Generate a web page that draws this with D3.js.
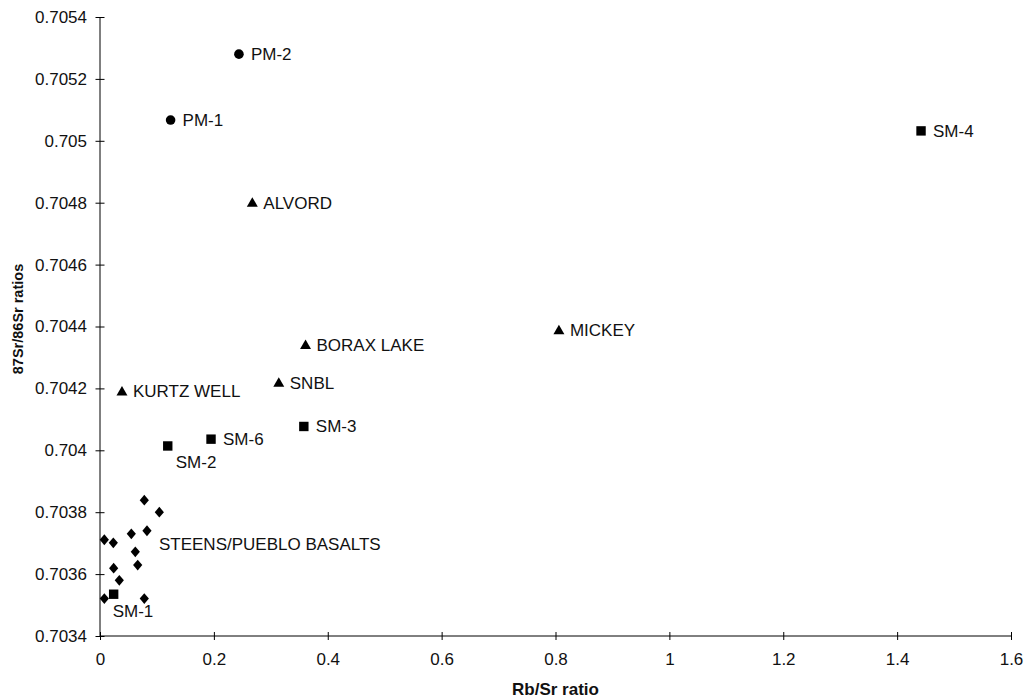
<!DOCTYPE html>
<html>
<head>
<meta charset="utf-8">
<script src="https://cdn.jsdelivr.net/npm/d3@7/dist/d3.min.js"></script>
<style>
  html, body { margin: 0; padding: 0; background: #fff; }
  svg { display: block; font-family: Arial, "Liberation Sans", sans-serif; }
</style>
</head>
<body>
<svg id="chart" width="1026" height="700"></svg>
<script>
// Rb/Sr ratio vs 87Sr/86Sr for volcanic samples
const xTicks = [0, 0.2, 0.4, 0.6, 0.8, 1, 1.2, 1.4, 1.6];
const xTickLabels = ["0", "0.2", "0.4", "0.6", "0.8", "1", "1.2", "1.4", "1.6"];
const yTicks = [0.7034, 0.7036, 0.7038, 0.704, 0.7042, 0.7044, 0.7046, 0.7048, 0.705, 0.7052, 0.7054];
const yTickLabels = ["0.7034", "0.7036", "0.7038", "0.704", "0.7042", "0.7044", "0.7046", "0.7048", "0.705", "0.7052", "0.7054"];

// Circles
const pmNames = ["PM-1", "PM-2"];
const pmRbSr  = [0.124, 0.244];
const pmSr    = [0.705067, 0.70528];

// Triangles
const triNames = ["ALVORD", "MICKEY", "BORAX LAKE", "SNBL", "KURTZ WELL"];
const triRbSr  = [0.2675, 0.806, 0.361, 0.314, 0.0386];
const triSr    = [0.7048, 0.704388, 0.70434, 0.704218, 0.70419];

// Squares
const smNames = ["SM-4", "SM-3", "SM-6", "SM-2", "SM-1"];
const smRbSr  = [1.442, 0.358, 0.195, 0.119, 0.024];
const smSr    = [0.705032, 0.704077, 0.704036, 0.704014, 0.703535];

// Diamonds: Steens / Pueblo basalts
const basaltRbSr = [0.0778, 0.1042, 0.0825, 0.055, 0.0076, 0.0234, 0.062, 0.0662, 0.024, 0.0339, 0.0076, 0.0778];
const basaltSr   = [0.703839, 0.7038, 0.70374, 0.70373, 0.703711, 0.703701, 0.703672, 0.703629, 0.703619, 0.70358, 0.703521, 0.703521];
const basaltLabel = "STEENS/PUEBLO BASALTS";

const svg = d3.select("#chart");
const margin = { left: 100, right: 15, top: 17, bottom: 64 };
const W = 1026, H = 700;

const x = d3.scaleLinear().domain([0, 1.6]).range([margin.left, W - margin.right]);
const y = d3.scaleLinear().domain([0.7034, 0.7054]).range([H - margin.bottom, margin.top]);

const fontSize = 17;
const ink = "#000";

// X axis
const xAxis = svg.append("g")
  .attr("transform", `translate(0,${y(0.7034)})`)
  .call(d3.axisBottom(x).tickValues(xTicks).tickFormat((d, i) => xTickLabels[i]).tickSize(4).tickPadding(13));
xAxis.selectAll(".tick line").attr("y1", -4).attr("y2", 4);

// Y axis
const yAxis = svg.append("g")
  .attr("transform", `translate(${x(0)},0)`)
  .call(d3.axisLeft(y).tickValues(yTicks).tickFormat((d, i) => yTickLabels[i]).tickSize(4).tickPadding(9));
yAxis.selectAll(".tick line").attr("x1", -4.5).attr("x2", 4.5);

[xAxis, yAxis].forEach(a => {
  a.select(".domain").attr("stroke", ink).attr("stroke-width", 1);
  a.selectAll(".tick line").attr("stroke", ink).attr("stroke-width", 1);
  a.selectAll(".tick text").attr("font-size", fontSize).attr("font-family", "Arial, 'Liberation Sans', sans-serif").attr("fill", "#111");
});
xAxis.select(".domain").attr("d", `M${x(0)},0H${x(1.6)}`);
yAxis.select(".domain").attr("d", `M0,${y(0.7034)}V${y(0.7054)}`);

// Axis titles
svg.append("text")
  .attr("x", (x(0) + x(1.6)) / 2)
  .attr("y", 695)
  .attr("text-anchor", "middle")
  .attr("font-size", 17)
  .attr("font-weight", "bold")
  .attr("fill", "#111")
  .text("Rb/Sr ratio");

svg.append("text")
  .attr("transform", `translate(23,${319}) rotate(-90)`)
  .attr("text-anchor", "middle")
  .attr("font-size", 14.5)
  .attr("font-weight", "bold")
  .attr("fill", "#111")
  .text("87Sr/86Sr ratios");

const marks = svg.append("g");
const labels = svg.append("g").attr("font-size", fontSize).attr("fill", "#111");

function label(px, py, text, dx, dy) {
  labels.append("text").attr("x", px + dx).attr("y", py + dy).text(text);
}

// Circles
pmNames.forEach((n, i) => {
  const px = x(pmRbSr[i]), py = y(pmSr[i]);
  marks.append("circle").attr("cx", px).attr("cy", py).attr("r", 4.8).attr("fill", ink);
  label(px, py, n, 12, 6);
});

// Triangles
const tri = d3.symbol().type(d3.symbolTriangle).size(52);
triNames.forEach((n, i) => {
  const px = x(triRbSr[i]), py = y(triSr[i]);
  marks.append("path").attr("d", tri()).attr("transform", `translate(${px},${py + 0.8})`).attr("fill", ink);
  label(px, py, n, 11, 6);
});

// Squares
const sqSide = 9.4;
const smOffsets = { "SM-4": [12, 6], "SM-3": [12, 6], "SM-6": [12, 6], "SM-2": [8, 22], "SM-1": [-1, 23] };
smNames.forEach((n, i) => {
  const px = x(smRbSr[i]), py = y(smSr[i]);
  marks.append("rect").attr("x", px - sqSide / 2).attr("y", py - sqSide / 2)
    .attr("width", sqSide).attr("height", sqSide).attr("fill", ink);
  label(px, py, n, smOffsets[n][0], smOffsets[n][1]);
});

// Diamonds
basaltRbSr.forEach((v, i) => {
  const px = x(v), py = y(basaltSr[i]);
  marks.append("path")
    .attr("d", "M0,-5.4L4.6,0L0,5.4L-4.6,0Z")
    .attr("transform", `translate(${px},${py})`)
    .attr("fill", ink);
});
// Group label placed beside the basalt cluster
label(x(basaltRbSr[2]), y(basaltSr[2]), basaltLabel, 12, 19);
</script>
</body>
</html>
